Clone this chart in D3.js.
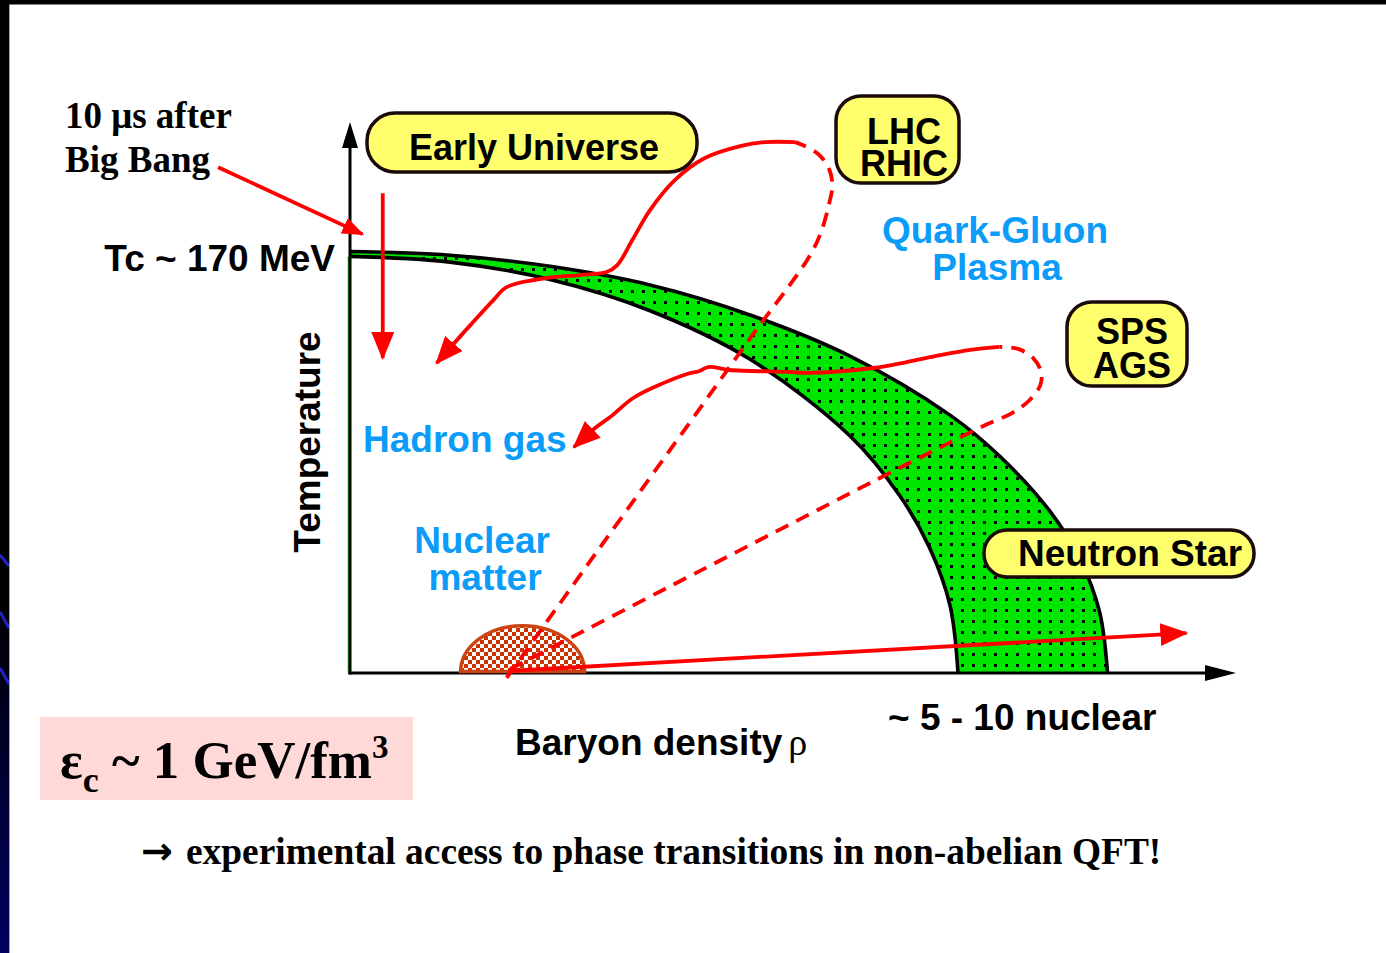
<!DOCTYPE html>
<html>
<head>
<meta charset="utf-8">
<script src="https://cdn.jsdelivr.net/npm/d3@7"></script>
<style>
  body { margin: 0; background: #fff; overflow: hidden; }
  svg { display: block; }
</style>
</head>
<body>
<svg id="main"></svg>
<script>

var chart = {
  width: 1386,
  height: 953,
}

// points are [baryon density (% of axis length), temperature (MeV)]
var outerEdge = [[0,170],[11.3,168.5],[22.6,164],[33.9,156.5],[45.2,144.4],[56.5,127.8],
                 [67.8,104],[73.4,87.5],[79.1,65.2],[82.5,45.8],[84.7,24.6],[85.6,0]];
var innerEdge = [[0,168],[11.3,165.7],[22.6,158.7],[33.9,146.1],[45.2,126.5],[56.5,95.6],
                 [62.1,71.6],[65.5,50.4],[67.8,27.2],[68.7,0]];

// LHC / RHIC : heating (dashed) then cooling (solid)
var lhcHeat = [[17.7,-2],[28.2,50.4],[39.5,106.5],[46.3,140.3],[49.7,156.5],[51.8,167.4],[53.1,176.6],
               [54.1,188.7],[54.5,196.8],[54.1,203.6],[52.9,209.3],[51.4,212.5],[50.3,214.1]];
var lhcCool = [[50.3,214.1],[46.9,214.1],[44.1,212.5],[40.1,207.7],[36.7,198.8],[33.9,186.7],[31.9,174.6],
               [30.2,164.5],[29.0,161.7],[26.0,160.5],[22.3,159.3],[17.7,155.6],[16.2,150.4],[13.6,140.3],
               [11.1,130.3],[9.8,125]];

// SPS / AGS
var spsHeat = [[18.1,1.6],[39.5,41.1],[62.1,82.7],[71.8,100],[74.8,104.8],[76.8,110.1],[78.0,116.1],
               [78.1,121.4],[77.2,127],[75.5,130.7],[73.4,131.5]];
var spsCool = [[73.4,131.5],[70.1,130.3],[66.7,128.2],[62.9,125.4],[59.1,123],[51.6,121],[49.7,121.4],
               [42.9,122.2],[40.5,123.4],[39.5,121.8],[38.1,120.6],[35.4,116.9],[32.0,110.9],[29.4,103.2],
               [27.7,98.8],[25.3,91.1]];

// early universe cooling, nuclear matter -> neutron star, big bang pointer
var earlyUniverse = [[3.7,193.5],[3.7,127]];
var neutronStar = [[17.9,0.8],[94.5,16.1]];
var bigBang = [[-14.9,204],[1.4,177]];

// nuclear matter blob: centre density, half width, height
var nuclearBlob = [19.5, 7.0, 18.5];

var Tc = 170;
var Tmax = 221;

var sans = "'Liberation Sans', Arial, sans-serif";
var serif = "'Liberation Serif', 'Times New Roman', serif";
var blue = "#0a9cf8";
var red = "#ff0000";

var svg = d3.select("#main")
  .attr("width", chart.width)
  .attr("height", chart.height)

var x = d3.scaleLinear().domain([0,100]).range([350,1235])
var y = d3.scaleLinear().domain([0,Tmax]).range([673,125])

var defs = svg.append("defs")

var dots = defs.append("pattern").attr("id","dots")
  .attr("patternUnits","userSpaceOnUse").attr("width",11).attr("height",11)
dots.append("rect").attr("width",11).attr("height",11).attr("fill","#00e600")
dots.append("rect").attr("x",4).attr("y",4).attr("width",3).attr("height",3).attr("fill","#000")

var checks = defs.append("pattern").attr("id","checks")
  .attr("patternUnits","userSpaceOnUse").attr("width",8).attr("height",8)
checks.append("rect").attr("width",8).attr("height",8).attr("fill","#fff")
checks.append("rect").attr("width",4).attr("height",4).attr("fill","#cc3300")
checks.append("rect").attr("x",4).attr("y",4).attr("width",4).attr("height",4).attr("fill","#cc3300")

function arrowMarker(id, len, wid, col) {
  defs.append("marker").attr("id",id)
    .attr("markerUnits","userSpaceOnUse")
    .attr("viewBox","0 0 "+len+" "+wid)
    .attr("refX",len - 2).attr("refY",wid/2)
    .attr("markerWidth",len).attr("markerHeight",wid)
    .attr("orient","auto")
    .append("path").attr("d","M0,0L"+len+","+(wid/2)+"L0,"+wid+"Z").attr("fill",col)
}
arrowMarker("redHead", 28, 23, red)
arrowMarker("redSmall", 22, 17, red)

// left slide border
var grad = defs.append("linearGradient").attr("id","edge").attr("x1",0).attr("x2",0).attr("y1",0).attr("y2",1)
grad.append("stop").attr("offset","0.62").attr("stop-color","#000")
grad.append("stop").attr("offset","1").attr("stop-color","#000060")
svg.append("rect").attr("x",0).attr("y",0).attr("width",9).attr("height",chart.height).attr("fill","url(#edge)")
;[[555,566],[612,628],[668,684]].forEach(function(s){
  svg.append("line").attr("x1",0).attr("y1",s[0]).attr("x2",9).attr("y2",s[1])
    .attr("stroke","#2222cc").attr("stroke-width",3)
})
svg.append("line").attr("x1",9.5).attr("y1",0).attr("x2",9.5).attr("y2",chart.height)
  .attr("stroke","#a0a0b8").attr("stroke-width",1)
svg.append("rect").attr("x",0).attr("y",0).attr("width",chart.width).attr("height",4.5).attr("fill","#000")

// phase boundary band
var edgeLine = d3.line().x(function(d){return x(d[0])}).y(function(d){return y(d[1])})
  .curve(d3.curveCatmullRom.alpha(0.5))
var bandPath = edgeLine(outerEdge) + edgeLine(innerEdge.slice().reverse()).replace(/^M/,"L") + "Z"
svg.append("path").attr("d",bandPath).attr("fill","url(#dots)")
svg.append("line").attr("x1",x(0)-1.5).attr("x2",x(0)-1.5).attr("y1",y(innerEdge[0][1])).attr("y2",y(0))
  .attr("stroke","#00c000").attr("stroke-width",1.5)
svg.append("path").attr("d",edgeLine(outerEdge)).attr("fill","none").attr("stroke","#000").attr("stroke-width",3.6)
svg.append("path").attr("d",edgeLine(innerEdge)).attr("fill","none").attr("stroke","#000").attr("stroke-width",3.6)

// axes
svg.append("line").attr("x1",x(0)).attr("x2",x(0)).attr("y1",y(0)+1.5).attr("y2",y(Tmax)+22)
  .attr("stroke","#000").attr("stroke-width",3)
svg.append("path").attr("d","M"+(x(0)-8)+","+(y(Tmax)+23)+"L"+x(0)+","+(y(Tmax)-3)+"L"+(x(0)+8)+","+(y(Tmax)+23)+"Z")
  .attr("fill","#000")
svg.append("line").attr("x1",x(0)-1.5).attr("x2",x(100)-28).attr("y1",y(0)).attr("y2",y(0))
  .attr("stroke","#000").attr("stroke-width",3)
svg.append("path").attr("d","M"+(x(100)-30)+","+(y(0)-8)+"L"+(x(100)+1)+","+y(0)+"L"+(x(100)-30)+","+(y(0)+8)+"Z")
  .attr("fill","#000")

// nuclear matter
var cx = x(nuclearBlob[0]), rx = x(nuclearBlob[0]+nuclearBlob[1]) - cx, ry = y(0) - y(nuclearBlob[2])
svg.append("path")
  .attr("d","M"+(cx-rx)+","+(y(0)-1.5)+"A"+rx+","+ry+" 0 0 1 "+(cx+rx)+","+(y(0)-1.5)+"Z")
  .attr("fill","url(#checks)").attr("stroke","#cc4411").attr("stroke-width",3.5)

// red trajectories
var traj = d3.line().x(function(d){return x(d[0])}).y(function(d){return y(d[1])})
  .curve(d3.curveCatmullRom.alpha(0.5))
function redPath(pts, dashed, head) {
  var p = svg.append("path").attr("d",traj(pts)).attr("fill","none")
    .attr("stroke",red).attr("stroke-width",3.8)
  if (dashed) p.attr("stroke-dasharray","14,9")
  if (head) p.attr("marker-end","url(#"+head+")")
}
redPath(lhcHeat, true)
redPath(lhcCool, false, "redHead")
redPath(spsHeat, true)
redPath(spsCool, false, "redHead")
redPath(neutronStar, false, "redHead")
redPath(earlyUniverse, false, "redHead")
redPath(bigBang, false, "redSmall")

// labelled boxes
function box(x0, y0, w, h, r, lines, cxText, baselines, size) {
  svg.append("rect").attr("x",x0).attr("y",y0).attr("width",w).attr("height",h)
    .attr("rx",r).attr("ry",r).attr("fill","#ffff6e").attr("stroke","#1a0a0a").attr("stroke-width",3.5)
  lines.forEach(function(t,i){
    svg.append("text").attr("x",cxText).attr("y",baselines[i]).attr("text-anchor","middle")
      .attr("font-family",sans).attr("font-weight","bold").attr("font-size",size).attr("fill","#000").text(t)
  })
}
box(367,113,330,59,28,["Early Universe"],534,[160],36)
box(836,96,123,87,25,["LHC","RHIC"],904,[144,176],36)
box(1067,302,120,84,25,["SPS","AGS"],1132,[344,378],36)
box(984,530,270,47,23,["Neutron Star"],1130,[566],37)

function label(t, px, py, opts) {
  opts = opts || {}
  return svg.append("text").attr("x",px).attr("y",py)
    .attr("text-anchor",opts.anchor || "start")
    .attr("font-family",opts.family || sans).attr("font-weight","bold")
    .attr("font-size",opts.size || 37).attr("fill",opts.fill || "#000").text(t)
}

label("10 μs after", 65, 128, {family: serif, size: 37})
label("Big Bang", 65, 172, {family: serif, size: 37})
label("Tc ~ 170 MeV", 335, y(Tc)+20, {anchor: "end"})
label("Quark-Gluon", 995, 243, {anchor: "middle", fill: blue})
label("Plasma", 997, 280, {anchor: "middle", fill: blue})
label("Hadron gas", 363, 452, {fill: blue})
label("Nuclear", 482, 553, {anchor: "middle", fill: blue})
label("matter", 485, 590, {anchor: "middle", fill: blue})
label("~ 5 - 10 nuclear", 888, 730)

svg.append("text").attr("transform","translate(320,442) rotate(-90)").attr("text-anchor","middle")
  .attr("font-family",sans).attr("font-weight","bold").attr("font-size",37).text("Temperature")

var bd = label("Baryon density", 515, 755)
bd.append("tspan").attr("font-family",serif).attr("font-weight","normal").attr("font-size",38).attr("dx",6).text("ρ")

// energy density box
svg.append("rect").attr("x",40).attr("y",717).attr("width",373).attr("height",83).attr("fill","#ffd8d8")
var eps = svg.append("text").attr("x",60).attr("y",778).attr("font-family",serif).attr("font-weight","bold")
  .attr("font-size",53).attr("fill","#000")
eps.append("tspan").text("ε")
eps.append("tspan").attr("font-size",36).attr("dy",14).text("c")
eps.append("tspan").attr("dy",-14).text(" ~ 1 GeV/fm")
eps.append("tspan").attr("font-size",33).attr("dy",-20).text("3")

// conclusion
label("→", 141, 864, {family: "'DejaVu Sans', sans-serif", size: 38})
label("experimental access to phase transitions in non-abelian QFT!", 186, 864, {family: serif, size: 37.4})

</script>
</body>
</html>
